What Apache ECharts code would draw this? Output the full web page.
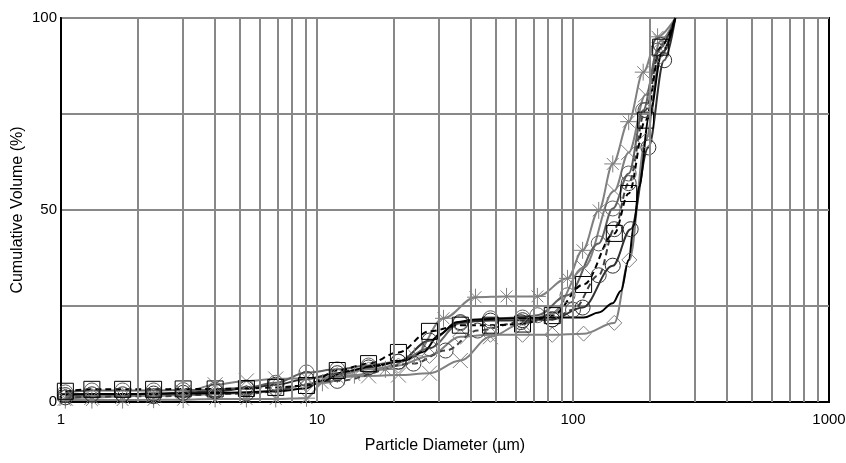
<!DOCTYPE html>
<html><head><meta charset="utf-8">
<script src="https://cdn.jsdelivr.net/npm/echarts@6/dist/echarts.min.js"></script>
<style>html,body{margin:0;padding:0;background:#fff}#c{width:846px;height:463px}</style>
</head><body><div id="c"></div>
<script>
// ---- data (particle diameter in µm, cumulative volume in %) ----
const yTicks = [0, 25, 50, 75, 100];
const xTicks = [1, 10, 100, 1000];
const minorGrid = [2,3,4,5,6,7,8,9,10,20,30,40,50,60,70,80,90,100,200,300,400,500,600,700,800,900];

// black dashed, squares
const sqX = [1.04,1.32,1.74,2.3,3.0,4.0,5.3,6.9,9.1,12,15.9,20.8,27.5,36.3,47.6,63.5,83,110,145,165,192,220,251];
const sqY = [2.8,3.3,3.3,3.3,3.4,3.4,3.5,3.8,4.3,8.2,10.0,12.9,18.4,20.0,20.0,20.3,22.5,30.6,43.9,54.3,73.4,92.4,100];

// black solid, no markers
const blkX = [1,2,3,5,7,9,10.5,13,17,22,26,30,35,42,60,80,110,126,143,154,165,173,181,198,223,251];
const blkY = [2.0,2.1,2.2,2.5,2.8,3.5,5.5,8,9.5,10.8,13,17.5,20.8,21.5,21.8,22,22,23.3,25.7,29,37,46,56,74,91,100];

// grey asterisks
const astX = [1.04,1.32,1.74,2.3,3.0,4.0,5.3,6.9,9.1,10.5,14,18.5,24,31.2,41.6,55,72.6,95.2,109,126,143,165,188,214,251];
const astY = [0.5,0.5,0.5,0.6,0.6,0.8,0.8,0.8,1.0,5,7,8.5,12,21.8,27.3,27.5,27.5,32.2,39.5,49.9,62,73,85.9,95.1,100];

// grey diamonds
const dmX = [1.04,1.32,1.74,2.3,3.0,4.0,5.3,6.9,9.1,12,15.9,20.8,27.5,36.3,47.6,63.5,83,110,145,166,192,220,251];
const dmY = [1.5,1.5,1.6,1.6,1.8,2.0,2.4,3.0,4.5,7,8.5,9.5,12,17,17.5,17.5,17.5,17.8,20.6,37,68,90,100];

// grey crosses
const crX = [1.04,1.32,1.74,2.3,3.0,4.0,5.3,6.9,9.1,12,15.9,20.8,27.5,36.3,47.6,63.5,83,110,145,165,192,220,251];
const crY = [1.0,1.2,1.4,1.8,2.5,4.5,5.5,6.0,6.2,6.5,6.8,7.0,7.5,10.8,17,20.5,23,35,55,65,80,94,100];

// grey circles (steeper)
const c1X = [1.04,1.32,1.74,2.3,3.0,4.0,5.3,6.9,9.1,12,15.9,20.8,27.5,36.3,47.6,63.5,72.6,95.2,126,143,165,188,214,251];
const c1Y = [2.5,3.0,3.0,3.0,3.1,3.2,3.8,5.0,7.7,8.5,9.5,10.5,14,20.5,21.8,22,22.6,27.8,41.3,50.4,59.5,76,91.5,100];

// black circles
const c2X = [1.04,1.32,1.74,2.3,3.0,4.0,5.3,6.9,9.1,12,15.9,20.8,27.5,36.3,47.6,63.5,83,109,143,168,197,227,251];
const c2Y = [1.8,2.0,2.0,2.2,2.4,2.8,3.5,4.5,6.0,7.5,9.0,10.5,16,20.8,21.2,21.3,21.5,24.6,35.5,45,66.3,89,100];

// dashed grey, circles (late plateau)
const c3X = [1.04,2.3,5.3,12,23.8,31.8,42.4,62.6,83,100,126,145,165,192,220,251];
const c3Y = [1.2,1.5,2.2,5.5,10,13.4,18.6,20.8,21.5,24,33,45,57,76,93,100];

const FONT = 'Liberation Sans, Arial, sans-serif';
const XSYM = 'path://M0,0L10,10M10,0L0,10';
const ASYM = 'path://M0,5L10,5M5,0L5,10M1.5,1.5L8.5,8.5M8.5,1.5L1.5,8.5';

function pts(xs, ys, lastNoMark) {
  return xs.map((x, i) => {
    const it = { value: [x, ys[i]] };
    if (lastNoMark && i === xs.length - 1) it.symbol = 'none';
    return it;
  });
}

function mk(name, xs, ys, opt) {
  return Object.assign({
    name, type: 'line', data: pts(xs, ys, true),
    smooth: 0.35, smoothMonotone: 'x', z: 3,
    symbolSize: 15,
    itemStyle: { color: 'transparent', borderColor: opt.color, borderWidth: 1 },
    lineStyle: { color: opt.color, width: 2, type: opt.dash || 'solid' },
    emphasis: { disabled: true }
  }, opt.extra || {});
}

const chart = echarts.init(document.getElementById('c'), null, { renderer: 'canvas' });
chart.setOption({
  animation: false,
  backgroundColor: '#fff',
  grid: { left: 61, right: 17, top: 18, bottom: 61, containLabel: false, outerBoundsMode: 'none',
    show: true, borderColor: '#000', borderWidth: 2, backgroundColor: 'transparent' },
  xAxis: {
    type: 'log', logBase: 10, min: xTicks[0], max: xTicks[xTicks.length - 1],
    name: 'Particle Diameter (µm)', nameLocation: 'middle', nameGap: 36, nameMoveOverlap: false,
    nameTextStyle: { fontFamily: FONT, fontSize: 16, color: '#000' },
    axisLine: { lineStyle: { color: '#000', width: 2 } },
    axisTick: { show: false },
    axisLabel: { fontFamily: FONT, fontSize: 15, color: '#000', margin: 10, formatter: v => String(v) },
    splitLine: { show: false }
  },
  yAxis: {
    type: 'value', min: yTicks[0], max: yTicks[yTicks.length - 1], interval: 25,
    name: 'Cumulative Volume (%)', nameLocation: 'middle', nameGap: 35, nameMoveOverlap: false,
    nameTextStyle: { fontFamily: FONT, fontSize: 16, color: '#000' },
    axisLine: { show: true, lineStyle: { color: '#000', width: 2 } },
    axisTick: { show: false },
    axisLabel: { fontFamily: FONT, fontSize: 15, color: '#000', margin: 4,
      formatter: v => (v % 50 === 0 ? String(v) : '') },
    splitLine: { show: true, lineStyle: { color: '#888', width: 2 } }
  },
  series: [
    { type: 'line', data: [], z: 1, silent: true,
      markLine: { silent: true, symbol: 'none', label: { show: false },
        lineStyle: { color: '#888', width: 2, type: 'solid' },
        emphasis: { disabled: true },
        data: minorGrid.map(v => ({ xAxis: v })) } },
    mk('diamond', dmX, dmY, { color: '#808080', extra: { symbol: 'diamond', symbolSize: 15 } }),
    mk('cross', crX, crY, { color: '#808080', extra: { symbol: XSYM, symbolSize: 15 } }),
    mk('asterisk', astX, astY, { color: '#808080', extra: { symbol: ASYM, symbolSize: 17 } }),
    mk('circleGrey', c1X, c1Y, { color: '#606060', extra: { symbol: 'circle', symbolSize: 15 } }),
    mk('circleDash', c3X, c3Y, { color: '#404040', dash: [6, 4], extra: { symbol: 'circle', symbolSize: 15 } }),
    mk('circleBlack', c2X, c2Y, { color: '#303030', extra: { symbol: 'circle', symbolSize: 15 } }),
    mk('black', blkX, blkY, { color: '#000', extra: { symbol: 'none', showSymbol: false } }),
    mk('square', sqX, sqY, { color: '#000', dash: [6, 4], extra: { symbol: 'rect', symbolSize: 16 } })
  ]
});
</script></body></html>
